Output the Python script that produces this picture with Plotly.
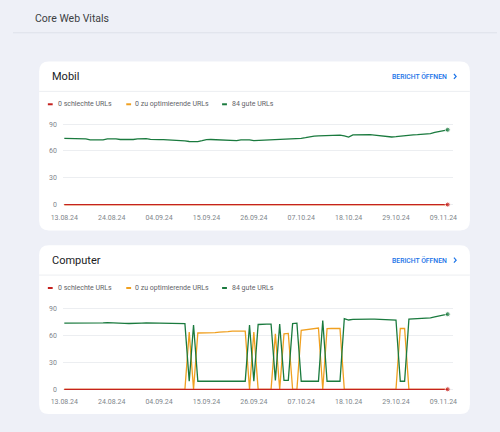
import pandas as pd
import plotly.graph_objects as go

W, H = 500, 432

# ---------------- data ----------------
start_date = "2024-08-13"
n_days = 90
dates = pd.date_range(start_date, periods=n_days, freq="D")

mobil_good = [74, 74, 74, 73.5, 73.7, 73.5,
              72.5, 72.3, 72.2, 72.5,
              73.5, 73.8, 73.6,
              72.8, 72.6, 72.6, 72.8,
              73.5, 73.8, 73.7,
              73, 72.6, 72.6, 72.7, 72.5,
              72,
              71.5, 71.5, 71.2,
              70.6, 70.4, 70.5,
              71.5,
              72.6, 72.8, 72.6, 72.4,
              72,
              71.5, 71.3, 71.5,
              72.5, 72.9, 72.5,
              71.6,
              71.8, 72, 71.8,
              72, 72.2, 72.4, 72.6,
              73, 73.4, 73.8, 74.1,
              74.8, 75.8, 76.7,
              76.8, 77, 77, 77.5,
              78.1, 77.8,
              76.8,
              75.5,
              78, 78.1, 78.3,
              78.5, 78.2, 77.8,
              77.4, 76.5, 75.8,
              75.6, 76,
              76.7, 77.2, 77.7,
              78.1, 78.3, 78.4,
              78.5, 79.4, 80.7,
              81.7, 82.6, 83.7]
mobil_improve = [0] * n_days
mobil_poor = [0] * n_days

comp_good = ([74, 74, 74, 73.8, 73.6, 73.5, 73.5, 73.8, 74, 74.3, 74.5, 74.5, 74.3, 74,
              73.8, 73.6, 73.5, 73.7, 74, 74.2, 74.2, 74, 73.8, 73.7, 73.6, 73.6, 73.5, 73.5,
              73.5,
              9,
              72]
             + [9] * 12
             + [72, 9,
                72.5, 73, 73, 73,
                10,
                73,
                10, 10,
                73.5, 74,
                9, 9, 9, 9, 9,
                77,
                9, 9, 9, 9,
                79, 77.5, 78.3, 78.5, 78.5, 78.8, 78.6, 78.4, 78.3, 78.2, 78, 77.8, 77.5,
                9, 9,
                78.5, 78.8, 79, 79.2, 79.5, 80, 81, 82, 83, 84])
comp_improve = ([0] * 29
                + [64, 0]
                + [63, 63, 63, 63, 63.5, 64, 64, 64.5, 65, 65, 65, 65]
                + [0, 64]
                + [0, 0, 0, 0]
                + [62, 0, 62, 62.5, 0, 0]
                + [66, 66.5, 67, 67.8, 68.5]
                + [0]
                + [68, 68.2, 68.2, 68]
                + [0] * 13
                + [68, 68]
                + [0] * 10)
comp_poor = [0] * n_days

assert len(mobil_good) == n_days and len(comp_good) == n_days and len(comp_improve) == n_days

legend_labels = ["0 schlechte URLs", "0 zu optimierende URLs", "84 gute URLs"]
y_ticks = [0, 30, 60, 90]

# ---------------- style ----------------
BG = "#eef0f7"
RED = "#c5221f"
ORANGE = "#f0a020"
GREEN = "#1a7a3e"
BLUE = "#1a73e8"
FONT = "Roboto"


def px(x):
    return x / W


def py(y):
    return 1 - y / H


fig = go.Figure()

t0 = pd.Timestamp(start_date)
x_lo = t0 + pd.Timedelta(days=(52 - 53) / 4.45)
x_hi = t0 + pd.Timedelta(days=(455 - 53) / 4.45)

charts = [
    dict(good=mobil_good, improve=mobil_improve, poor=mobil_poor, y90=124, y0=205, ax=""),
    dict(good=comp_good, improve=comp_improve, poor=comp_poor, y90=310, y0=391, ax="2"),
]

for c in charts:
    xa = "x" + c["ax"]
    ya = "y" + c["ax"]
    end_size = [0] * (n_days - 1) + [5]
    fig.add_trace(go.Scatter(x=dates, y=c["improve"], mode="lines", line=dict(color=ORANGE, width=1.3),
                             xaxis=xa, yaxis=ya, hoverinfo="skip"))
    fig.add_trace(go.Scatter(x=dates, y=c["good"], mode="lines+markers", line=dict(color=GREEN, width=1.3),
                             marker=dict(size=end_size, color=GREEN), xaxis=xa, yaxis=ya, hoverinfo="skip"))
    fig.add_trace(go.Scatter(x=dates, y=c["poor"], mode="lines+markers", line=dict(color=RED, width=1.3),
                             marker=dict(size=end_size, color=RED), xaxis=xa, yaxis=ya, hoverinfo="skip"))

axis_common = dict(showgrid=True, zeroline=False, showline=False,
                   tickfont=dict(family=FONT, size=7, color="#80868b"))

for c in charts:
    ppu = (c["y0"] - c["y90"]) / 90.0
    pad = 3
    top = c["y90"] - pad * ppu
    bot = c["y0"] + pad * ppu
    key = c["ax"]
    xkey = "xaxis" + key
    ykey = "yaxis" + key
    fig.update_layout(**{
        xkey: dict(domain=[px(52), px(455)], range=[x_lo, x_hi], type="date",
                   tick0=start_date, dtick=11 * 86400000, tickformat="%d.%m.%y",
                   anchor="y" + key, gridcolor="rgba(0,0,0,0)",
                   ticks="outside", ticklen=3, tickcolor="rgba(0,0,0,0)", **axis_common),
        ykey: dict(domain=[py(bot), py(top)], range=[-pad, 90 + pad], tickvals=y_ticks,
                   anchor="x" + key, gridcolor="#eceef1", gridwidth=1,
                   ticks="outside", ticklen=4, tickcolor="rgba(0,0,0,0)", **axis_common),
    })

shapes = []
annotations = []

# header
shapes.append(dict(type="line", xref="paper", yref="paper", x0=0, x1=1, y0=py(32), y1=py(32),
                   line=dict(color="#dde1ea", width=1)))
annotations.append(dict(text="Core Web Vitals", x=px(21), y=py(18), xref="paper", yref="paper",
                        xanchor="left", yanchor="middle", showarrow=False,
                        font=dict(family=FONT, size=10.5, color="#3c4043")))


def rounded_rect(x0, y0, x1, y1, r):
    rx, ry = r / W, r / H
    X0, X1 = px(x0), px(x1)
    Yt, Yb = py(y0), py(y1)
    return (f"M {X0+rx},{Yt} L {X1-rx},{Yt} Q {X1},{Yt} {X1},{Yt-ry} "
            f"L {X1},{Yb+ry} Q {X1},{Yb} {X1-rx},{Yb} L {X0+rx},{Yb} "
            f"Q {X0},{Yb} {X0},{Yb+ry} L {X0},{Yt-ry} Q {X0},{Yt} {X0+rx},{Yt} Z")


cards = [("Mobil", 61, 231), ("Computer", 246, 416)]
for title, ctop, cbot in cards:
    shapes.append(dict(type="path", xref="paper", yref="paper", path=rounded_rect(27, ctop, 472, cbot, 10),
                       fillcolor="white", line=dict(width=0), layer="below"))
    ty = ctop + 15
    shapes.append(dict(type="line", xref="paper", yref="paper", x0=px(27), x1=px(472),
                       y0=py(ctop + 30), y1=py(ctop + 30), line=dict(color="#eceef1", width=1)))
    annotations.append(dict(text=title, x=px(38), y=py(ty), xref="paper", yref="paper",
                            xanchor="left", yanchor="middle", showarrow=False,
                            font=dict(family=FONT, size=11, color="#202124")))
    annotations.append(dict(text="BERICHT ÖFFNEN", x=px(450.5), y=py(ty), xref="paper", yref="paper",
                            xanchor="right", yanchor="middle", showarrow=False,
                            font=dict(family=FONT, size=6.8, color=BLUE, weight=500)))
    shapes.append(dict(type="path", xref="paper", yref="paper",
                       path=f"M {px(455.5)},{py(ty-2.5)} L {px(457.8)},{py(ty)} L {px(455.5)},{py(ty+2.5)}",
                       line=dict(color=BLUE, width=1.2)))
    ly = ctop + 43
    for (dx0, tx), col, lab in zip([(36, 44), (117, 124), (216, 224.5)], [RED, ORANGE, GREEN], legend_labels):
        shapes.append(dict(type="rect", xref="paper", yref="paper", x0=px(dx0), x1=px(dx0 + 5),
                           y0=py(ly - 1), y1=py(ly + 1), fillcolor=col, line=dict(width=0)))
        annotations.append(dict(text=lab, x=px(tx), y=py(ly), xref="paper", yref="paper",
                                xanchor="left", yanchor="middle", showarrow=False,
                                font=dict(family=FONT, size=7, color="#5f6368")))

fig.update_layout(
    width=W, height=H, margin=dict(l=0, r=0, t=0, b=0),
    paper_bgcolor=BG, plot_bgcolor="rgba(0,0,0,0)",
    showlegend=False, shapes=shapes, annotations=annotations,
    font=dict(family=FONT),
)

fig.write_html("out.html", config={"displayModeBar": False})
